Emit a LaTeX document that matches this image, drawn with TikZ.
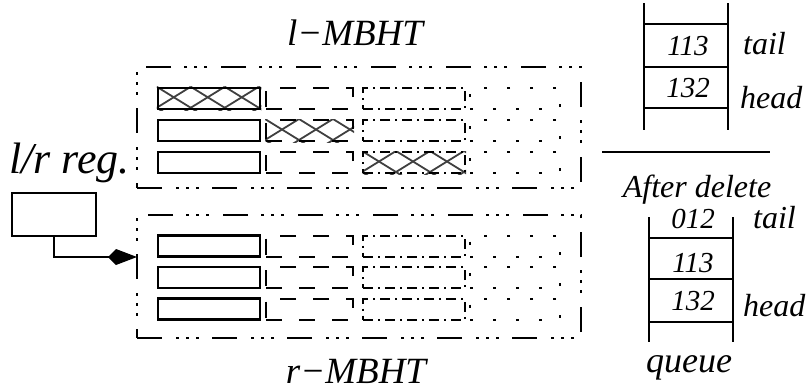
\documentclass[tikz,border=0pt]{standalone}
\usepackage{fontspec}
\setmainfont{Liberation Serif}
\usetikzlibrary{arrows.meta}
\pgfdeclarelayer{bg}
\pgfsetlayers{bg,main}

% diamond lattice fill behind a cell
\newcommand\crosshatch[1]{%
  \begin{pgfonlayer}{bg}
  \begin{scope}
    \clip (#1.south west) rectangle (#1.north east);
    \foreach \k in {-3,...,6} {
      \draw[hatchline, shift={(#1.north west)}] (\k*34,0) -- ++(136,84);
      \draw[hatchline, shift={(#1.north west)}] (\k*34,0) -- ++(-136,84);
    }
  \end{scope}
  \end{pgfonlayer}}

\begin{document}
\begin{tikzpicture}[x=1pt,y=-1pt,
  lbl/.style={inner sep=0pt, anchor=base, font=\itshape\fontsize{32}{38}\selectfont},
  big/.style={inner sep=0pt, anchor=base, font=\itshape\fontsize{37}{44}\selectfont},
  num/.style={inner sep=0pt, anchor=base, font=\itshape\fontsize{29}{34}\selectfont},
  outerbox/.style={draw, line width=2pt, inner sep=0pt, minimum width=444pt,
    dash pattern=on 25pt off 14pt on 3pt off 7pt on 3pt off 7pt on 3pt off 13pt},
  cell/.style={draw, inner sep=0pt, minimum height=21pt, line width=2pt},
  solidcell/.style={cell, line width=2.5pt, minimum width=102pt},
  dashcell/.style={cell, minimum width=87pt, dash pattern=on 16pt off 17pt},
  dotdashcell/.style={cell, minimum width=102pt, dash pattern=on 10pt off 5pt on 2pt off 5pt},
  dotcell/.style={cell, minimum width=90pt, dash pattern=on 3pt off 20pt},
  hatchline/.style={line width=1.8pt, black!75},
  qline/.style={line width=2pt},
  feed/.style={line width=2pt, -{Kite[length=29pt, width=16pt, inset=8pt]}}
]
\useasboundingbox (0,0) rectangle (812,391);

% titles
\node[big] (ltitle) at (355,45) {l−MBHT};
\node[big] (rtitle) at (356,383) {r−MBHT};

% the two tables
\node[outerbox, minimum height=121pt] (ltab) at (359,127.5) {};
\node[outerbox, minimum height=123pt] (rtab) at (359,276.5) {};

% rows of cells
\foreach \r/\y in {1/98.5, 2/130.5, 3/162.5} {
  \node[solidcell]   (l\r a) at (209,\y) {};
  \node[dashcell]    (l\r b) at (309.5,\y) {};
  \node[dotdashcell] (l\r c) at (414,\y) {};
  \node[dotcell]     (l\r d) at (515,\y) {};
}
\foreach \r/\y in {1/246, 2/277.5, 3/309} {
  \node[solidcell]   (r\r a) at (209,\y) {};
  \node[dashcell]    (r\r b) at (309.5,\y) {};
  \node[dotdashcell] (r\r c) at (414,\y) {};
  \node[dotcell]     (r\r d) at (515,\y) {};
}
\crosshatch{l1a}
\crosshatch{l2b}
\crosshatch{l3c}

% register and its link into the lower table
\node[inner sep=0pt, anchor=base west, font=\itshape\fontsize{44}{52}\selectfont] (regtxt) at (9,173) {l/r reg.};
\node[draw, line width=2pt, inner sep=0pt, minimum width=84pt, minimum height=43pt] (reg) at (54,214.5) {};
\coordinate (feedin) at (137,257);
\draw[feed] (reg.south) |- (feedin);

% queue before deletion
\draw[qline] (644,3) -- (644,130);
\draw[qline] (728,3) -- (728,130);
\foreach \y in {24,67,108} \draw[qline] (644,\y) -- (728,\y);
\node[num] (qa1) at (688,55) {113};
\node[num] (qa2) at (688,97) {132};
\node[lbl, anchor=base west] (qatail) at (743,54) {tail};
\node[lbl, anchor=base west] (qahead) at (740,108) {head};

% separator
\draw[qline] (602,152) -- (770,152);
\node[lbl] (after) at (697,197) {After delete};

% queue after deletion
\draw[qline] (649,217) -- (649,342);
\draw[qline] (733,217) -- (733,342);
\foreach \y in {238,279,322} \draw[qline] (649,\y) -- (733,\y);
\node[num] (qb0) at (693,228) {012};
\node[num] (qb1) at (693,272) {113};
\node[num] (qb2) at (693,310) {132};
\node[lbl, anchor=base west] (qbtail) at (753,228) {tail};
\node[lbl, anchor=base west] (qbhead) at (743,316) {head};
\node[inner sep=0pt, anchor=base, font=\itshape\fontsize{36}{42}\selectfont] (queue) at (689,372) {queue};
\end{tikzpicture}
\end{document}
